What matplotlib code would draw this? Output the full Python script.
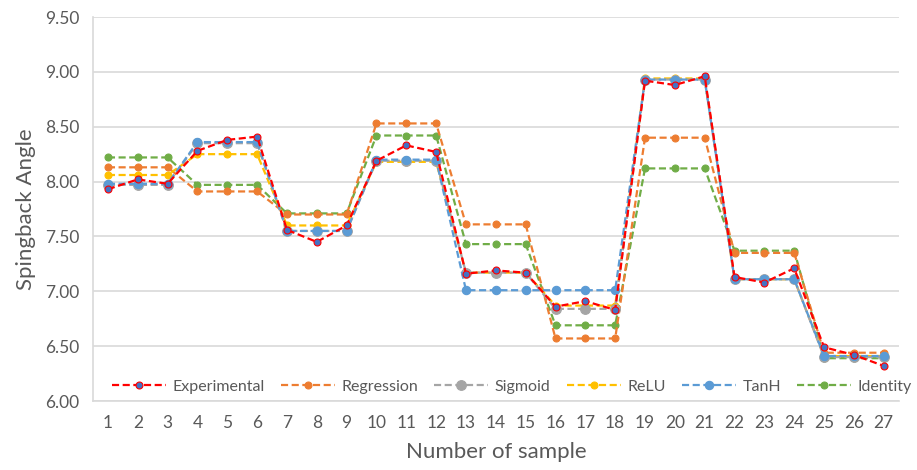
import matplotlib
matplotlib.use("Agg")
import matplotlib.pyplot as plt

samples = list(range(1, 28))

experimental = [7.93, 8.02, 7.98, 8.28, 8.38, 8.41, 7.56, 7.45, 7.60,
                8.19, 8.33, 8.27, 7.16, 7.19, 7.17, 6.86, 6.91, 6.83,
                8.92, 8.88, 8.96, 7.13, 7.08, 7.21, 6.49, 6.42, 6.32]
regression = [8.13, 8.13, 8.13, 7.91, 7.91, 7.91, 7.70, 7.70, 7.70,
              8.53, 8.53, 8.53, 7.61, 7.61, 7.61, 6.57, 6.57, 6.57,
              8.40, 8.40, 8.40, 7.35, 7.35, 7.35, 6.44, 6.44, 6.44]
sigmoid = [7.97, 7.97, 7.97, 8.35, 8.35, 8.35, 7.55, 7.55, 7.55,
           8.19, 8.19, 8.19, 7.17, 7.17, 7.17, 6.84, 6.84, 6.84,
           8.93, 8.93, 8.93, 7.11, 7.11, 7.11, 6.40, 6.40, 6.40]
relu = [8.06, 8.06, 8.06, 8.25, 8.25, 8.25, 7.60, 7.60, 7.60,
        8.18, 8.18, 8.18, 7.17, 7.17, 7.17, 6.87, 6.87, 6.87,
        8.94, 8.94, 8.94, 7.11, 7.11, 7.11, 6.41, 6.41, 6.41]
tanh = [7.98, 7.98, 7.98, 8.36, 8.36, 8.36, 7.55, 7.55, 7.55,
        8.20, 8.20, 8.20, 7.01, 7.01, 7.01, 7.01, 7.01, 7.01,
        8.93, 8.93, 8.93, 7.11, 7.11, 7.11, 6.41, 6.41, 6.41]
identity = [8.22, 8.22, 8.22, 7.97, 7.97, 7.97, 7.71, 7.71, 7.71,
            8.42, 8.42, 8.42, 7.43, 7.43, 7.43, 6.69, 6.69, 6.69,
            8.12, 8.12, 8.12, 7.37, 7.37, 7.37, 6.39, 6.39, 6.39]

y_ticks = [6.00, 6.50, 7.00, 7.50, 8.00, 8.50, 9.00, 9.50]

plt.rcParams['font.family'] = ['Lato', 'DejaVu Sans']

fig = plt.figure(figsize=(9.17, 4.70), dpi=100)
ax = fig.add_axes([0.1014, 0.1468, 0.8786, 0.8170])

series = [
    ("Identity", identity, "#70AD47", "#70AD47", 5),
    ("Regression", regression, "#ED7D31", "#ED7D31", 5),
    ("ReLU", relu, "#FFC000", "#FFC000", 5),
    ("Sigmoid", sigmoid, "#A5A5A5", "#A5A5A5", 7),
    ("TanH", tanh, "#5B9BD5", "#5B9BD5", 6),
    ("Experimental", experimental, "#FF0000", "#4472C4", 5),
]
handles = {}
for name, vals, lc, mc, ms in series:
    h, = ax.plot(samples, vals, linestyle=(0, (3.2, 1.6)), color=lc, lw=1.6,
                 marker="o", markersize=ms, markerfacecolor=mc,
                 markeredgecolor=lc if name == "Experimental" else mc,
                 markeredgewidth=0.8, label=name)
    handles[name] = h

ax.set_xlim(0.5, 27.5)
ax.set_ylim(6.0, 9.5)
ax.set_yticks(y_ticks)
ax.set_yticklabels([f"{v:.2f}" for v in y_ticks])
ax.set_xticks(samples)
ax.grid(axis="y", color="#D9D9D9", lw=1.2)
ax.set_axisbelow(True)
for s in ["top", "right"]:
    ax.spines[s].set_visible(False)
ax.spines["left"].set_color("#D9D9D9")
ax.spines["bottom"].set_color("#D9D9D9")
ax.spines["left"].set_linewidth(1.2)
ax.spines["bottom"].set_linewidth(1.2)
ax.tick_params(axis="both", length=0, colors="#595959", labelsize=12.5)
ax.tick_params(axis="x", pad=10)
ax.tick_params(axis="y", pad=10)

ax.set_xlabel("Number of sample", fontsize=16, color="#595959", labelpad=8)
ax.set_ylabel("Spingback Angle", fontsize=16, color="#595959", labelpad=6)

order = ["Experimental", "Regression", "Sigmoid", "ReLU", "TanH", "Identity"]
leg = ax.legend([handles[n] for n in order], order, ncol=6, loc="lower center",
                bbox_to_anchor=(0.52, -0.01), frameon=False, fontsize=11.5,
                handlelength=3.4, columnspacing=1.0, handletextpad=0.4,
                borderpad=0.2, labelcolor="#595959")

fig.savefig("out.png", dpi=100)
